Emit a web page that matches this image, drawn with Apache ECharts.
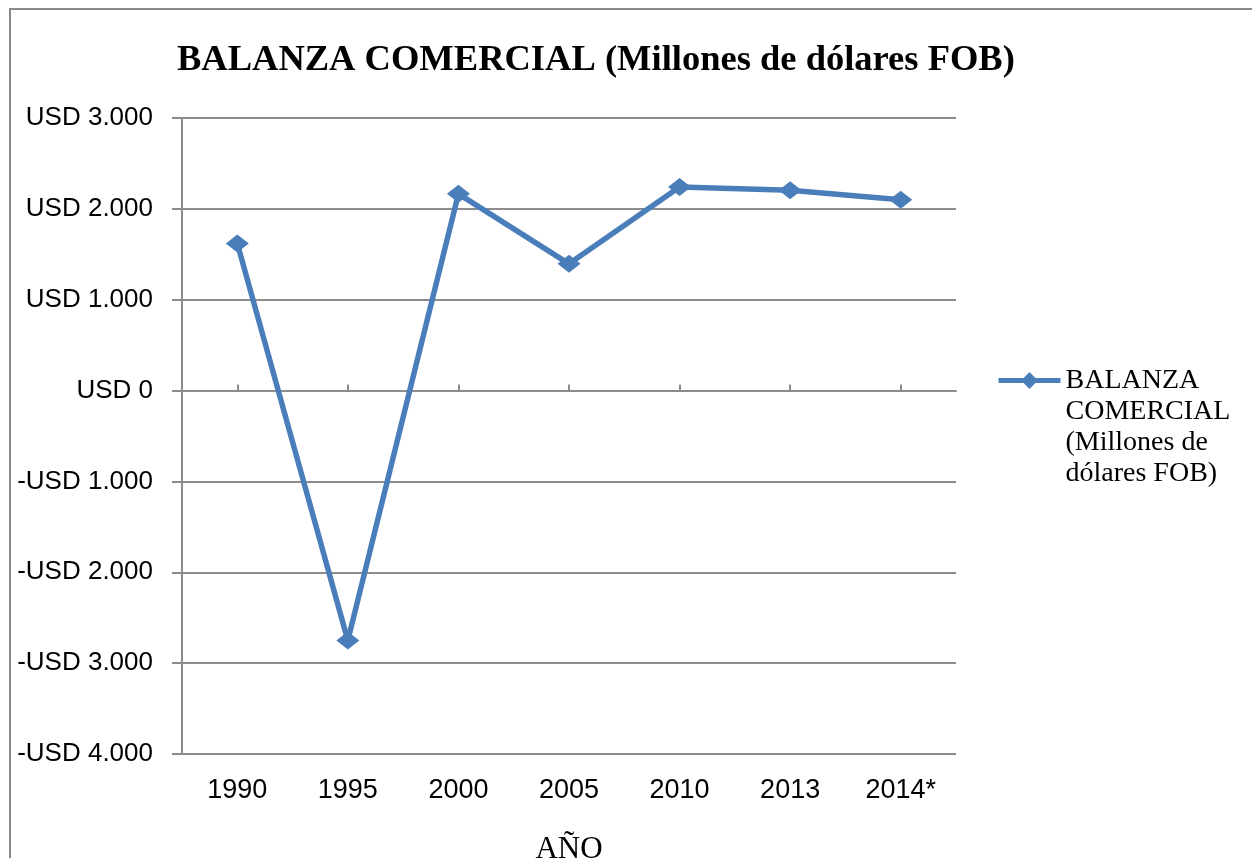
<!DOCTYPE html>
<html>
<head>
<meta charset="utf-8">
<title>Balanza comercial</title>
<script src="https://cdn.jsdelivr.net/npm/echarts@6/dist/echarts.min.js"></script>
<style>
  html, body { margin: 0; padding: 0; background: #fff; }
  #chart { width: 1252px; height: 858px; }
</style>
</head>
<body>
<div id="chart"></div>
<script>
// datos
const years = ['1990', '1995', '2000', '2005', '2010', '2013', '2014*']
const balanza = [1620, -2750, 2165, 1395, 2240, 2205, 2100]
const yTicks = { min: -4000, max: 3000, step: 1000 }
const serieNombre = 'BALANZA COMERCIAL (Millones de dólares FOB)'

const azul = '#4a7ebb'
const gris = '#8c8c8c'

// USD con punto de miles
const fmtUsd = v => {
  const s = Math.abs(v).toString().replace(/\B(?=(\d{3})+(?!\d))/g, '.')
  return (v < 0 ? '-USD ' : 'USD ') + s
}

const chart = echarts.init(document.getElementById('chart'))

const option = {
  animation: false,
  backgroundColor: '#fff',
  title: {
    text: 'BALANZA COMERCIAL (Millones de dólares FOB)',
    left: 177,
    top: 42,
    padding: 0,
    textStyle: {
      fontFamily: 'Liberation Serif',
      fontWeight: 'bold',
      fontSize: 36.5,
      color: '#000'
    }
  },
  graphic: [{
    type: 'rect',
    shape: { x: 10, y: 9, width: 1300, height: 900 },
    style: { fill: 'none', stroke: '#8a8a8a', lineWidth: 2 },
    z: -1
  }],
  legend: {
    left: 996,
    top: 272,
    padding: 0,
    itemWidth: 62,
    itemHeight: 21,
    data: [serieNombre],
    lineStyle: { width: 5 },
    // lineas vacias para que la primera linea quede a la altura del icono
    formatter: () => '\n\n\nBALANZA\nCOMERCIAL\n(Millones de\ndólares FOB)',
    textStyle: {
      fontFamily: 'Liberation Serif',
      fontSize: 28,
      lineHeight: 31,
      color: '#000'
    }
  },
  grid: { left: 182, top: 118, right: 296, bottom: 104, outerBoundsMode: 'none' },
  xAxis: [
    {
      // eje en el cero con marcas
      type: 'category',
      data: years,
      boundaryGap: true,
      axisLine: { onZero: true, lineStyle: { color: gris, width: 2 } },
      axisTick: { show: true, inside: true, length: 6, alignWithLabel: true, lineStyle: { color: gris, width: 2 } },
      axisLabel: { show: false },
      splitLine: { show: false }
    },
    {
      // etiquetas abajo
      type: 'category',
      data: years,
      position: 'bottom',
      boundaryGap: true,
      axisLine: { show: false, onZero: false },
      axisTick: { show: false },
      axisLabel: {
        margin: 23,
        fontFamily: 'Liberation Sans',
        fontSize: 27,
        color: '#000'
      },
      name: 'AÑO',
      nameLocation: 'middle',
      nameGap: 80,
      nameTextStyle: {
        fontFamily: 'Liberation Serif',
        fontSize: 31,
        color: '#000'
      }
    }
  ],
  yAxis: {
    type: 'value',
    min: yTicks.min,
    max: yTicks.max,
    interval: yTicks.step,
    axisLine: { show: true, lineStyle: { color: gris, width: 2 } },
    axisTick: { show: true, length: 10, lineStyle: { color: gris, width: 2 } },
    axisLabel: {
      margin: 29,
      fontFamily: 'Liberation Sans',
      fontSize: 26,
      color: '#000',
      padding: [6, 0, 0, 0],
      formatter: fmtUsd
    },
    splitLine: { lineStyle: { color: gris, width: 2 } }
  },
  series: [{
    name: serieNombre,
    type: 'line',
    xAxisIndex: 0,
    data: balanza,
    symbol: 'diamond',
    symbolSize: [23, 18],
    showAllSymbol: true,
    lineStyle: { color: azul, width: 5.5 },
    itemStyle: { color: azul },
    z: 5
  }]
}

chart.setOption(option)
</script>
</body>
</html>
